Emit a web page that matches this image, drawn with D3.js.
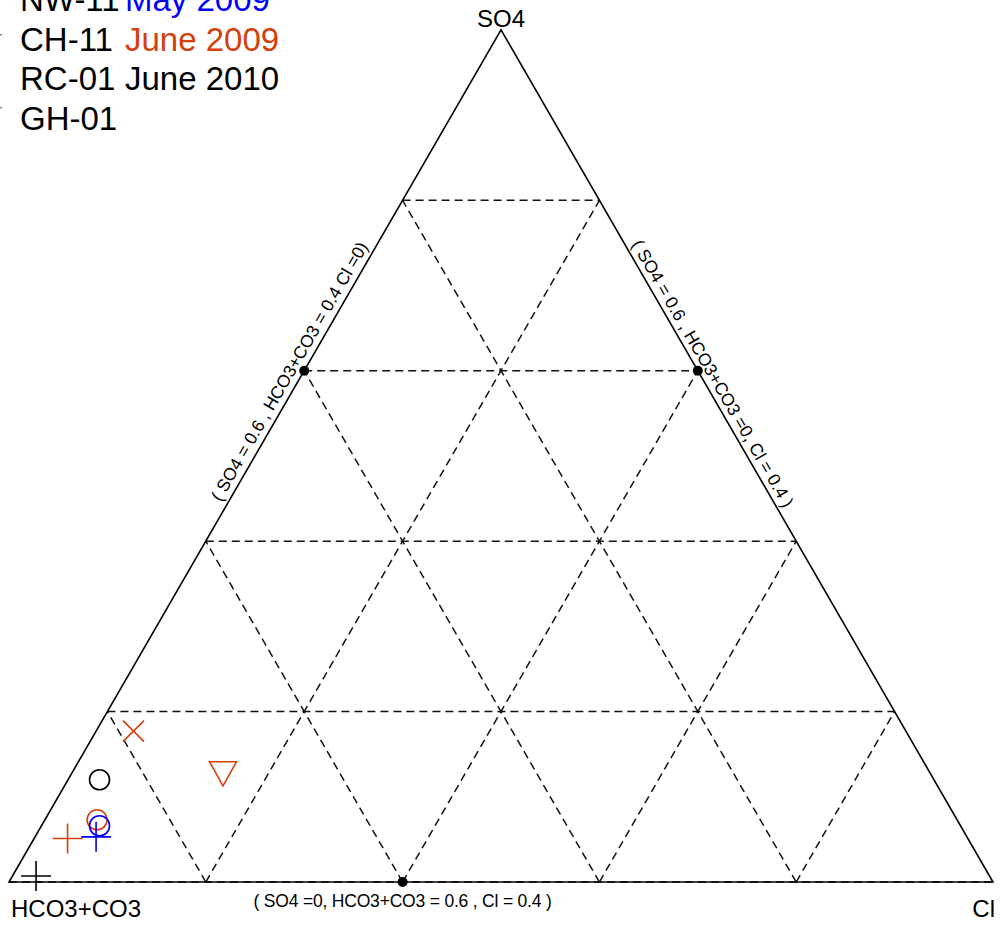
<!DOCTYPE html>
<html>
<head>
<meta charset="utf-8">
<script src="https://cdn.jsdelivr.net/npm/d3@7"></script>
<style>
  body { margin: 0; background: #fff; }
  svg { display: block; font-family: "Liberation Sans", Arial, sans-serif; }
</style>
</head>
<body>
<div id="chart"></div>
<script>
// legend rows: sample name + sampling date
var sampleNames = ["NW-11", "CH-11", "RC-01", "GH-01"];
var sampleDates = ["May 2009", "June 2009", "June 2010", ""];
var dateColors = ["#0000ff", "#d4400c", "#000000", "#000000"];

// anion fractions (SO4, HCO3+CO3, Cl)
var so4  = [0.177, 0.127, 0.120, 0.073, 0.066, 0.053, 0.051, 0.007];
var hco3 = [0.785, 0.719, 0.848, 0.874, 0.875, 0.885, 0.915, 0.969];
var cl   = [0.038, 0.154, 0.032, 0.053, 0.059, 0.062, 0.034, 0.024];
var symbols = ["times", "triangle", "circle", "circle", "circle", "plus", "plus", "plus"];
var pointColors = ["#d4400c", "#d4400c", "#000000", "#d4400c", "#0000ff", "#0000ff", "#d4400c", "#000000"];

var gridLevels = [0, 0.2, 0.4, 0.6, 0.8];

// reference points with their labels
var refPoints = [
    {so4: 0.6, hco3: 0.4, cl: 0,   text: "( SO4 = 0.6 ,  HCO3+CO3 = 0.4 Cl =0)"},
    {so4: 0.6, hco3: 0,   cl: 0.4, text: "( SO4 = 0.6 ,  HCO3+CO3 =0, Cl = 0.4 )"},
    {so4: 0,   hco3: 0.6, cl: 0.4, text: "( SO4 =0, HCO3+CO3 = 0.6 ,  Cl = 0.4 )"}
];

var width = 1001,
    height = 926;

var side = 984,
    x0 = 9,
    y0 = 882,
    triH = side * Math.sqrt(3) / 2;

var xScale = d3.scaleLinear().domain([0, 1]).range([x0, x0 + side]);
var yScale = d3.scaleLinear().domain([0, 1]).range([y0, y0 - triH]);

function px(a, c) { return xScale(c + a / 2); }
function py(a) { return yScale(a); }

var svg = d3.select("#chart").append("svg")
    .attr("width", width)
    .attr("height", height);

// dashed grid: constant SO4, constant Cl, constant HCO3
var gridLines = [];
gridLevels.forEach(function (v) {
    gridLines.push([[v, 0], [v, 1 - v]]);           // SO4 = v  (a, c)
    if (v > 0) {
        gridLines.push([[0, v], [1 - v, v]]);       // Cl = v
        gridLines.push([[0, 1 - v], [1 - v, 0]]);   // HCO3 = v
    }
});

svg.append("g")
    .selectAll("line")
    .data(gridLines)
    .enter()
    .append("line")
    .attr("x1", function (d) { return px(d[0][0], d[0][1]); })
    .attr("y1", function (d) { return py(d[0][0]); })
    .attr("x2", function (d) { return px(d[1][0], d[1][1]); })
    .attr("y2", function (d) { return py(d[1][0]); })
    .attr("stroke", "#111")
    .attr("stroke-width", 1.5)
    .attr("stroke-dasharray", "8,5");

// outer triangle
var corners = [[0, 0], [0, 1], [1, 0]];
svg.append("path")
    .attr("d", "M" + corners.map(function (d) { return px(d[0], d[1]) + "," + py(d[0]); }).join("L") + "Z")
    .attr("fill", "none")
    .attr("stroke", "#000")
    .attr("stroke-width", 1.6);

// vertex labels
svg.append("text").attr("x", px(1, 0)).attr("y", 27)
    .attr("text-anchor", "middle").attr("font-size", 24).text("SO4");
svg.append("text").attr("x", 11).attr("y", 917)
    .attr("font-size", 24).text("HCO3+CO3");
svg.append("text").attr("x", 995).attr("y", 917)
    .attr("text-anchor", "end").attr("font-size", 24).text("Cl");

// reference dots
svg.append("g")
    .selectAll("circle")
    .data(refPoints)
    .enter()
    .append("circle")
    .attr("cx", function (d) { return px(d.so4, d.cl); })
    .attr("cy", function (d) { return py(d.so4); })
    .attr("r", 5)
    .attr("fill", "#000");

// left edge label (rotated -60), right edge (+60), bottom (flat)
var lp = refPoints[0], rp = refPoints[1], bp = refPoints[2];
var lx = px(lp.so4, lp.cl) - 8 * 0.5 - 6.5 * 0.866,
    ly = py(lp.so4) + 8 * 0.866 - 6.5 * 0.5;
svg.append("text")
    .attr("transform", "translate(" + lx + "," + ly + ") rotate(-60)")
    .attr("text-anchor", "middle").attr("font-size", 17.5).text(lp.text);

var rx = px(rp.so4, rp.cl) + 10 * 0.5 + 5.5 * 0.866,
    ry = py(rp.so4) + 10 * 0.866 - 5.5 * 0.5;
svg.append("text")
    .attr("transform", "translate(" + rx + "," + ry + ") rotate(60)")
    .attr("text-anchor", "middle").attr("font-size", 17.5).text(rp.text);

svg.append("text")
    .attr("x", px(bp.so4, bp.cl)).attr("y", 907)
    .attr("text-anchor", "middle").attr("font-size", 17.5).attr("letter-spacing", -0.2)
    .text(bp.text);

// data markers
function markerPath(type) {
    if (type === "plus") return "M-15,0H15M0,-15V15";
    if (type === "times") return "M-10.5,-10.5L10.5,10.5M-10.5,10.5L10.5,-10.5";
    if (type === "triangle") return "M-13.5,-12H13.5L0,12Z";
    return "M-10,0A10,10 0 1,0 10,0A10,10 0 1,0 -10,0Z";
}

svg.append("g")
    .selectAll("path")
    .data(so4)
    .enter()
    .append("path")
    .attr("transform", function (d, i) {
        return "translate(" + px(so4[i], cl[i]) + "," + py(so4[i]) + ")";
    })
    .attr("d", function (d, i) { return markerPath(symbols[i]); })
    .attr("fill", "none")
    .attr("stroke", function (d, i) { return pointColors[i]; })
    .attr("stroke-width", 1.6);

// legend (its symbols sit off the left edge, only their tips show)
var legend = svg.append("g");
sampleNames.forEach(function (name, i) {
    var base = 11 + i * 39.5;
    legend.append("text").attr("x", 20).attr("y", base)
        .attr("font-size", 33).text(name);
    legend.append("text").attr("x", 125).attr("y", base)
        .attr("font-size", 33).attr("fill", dateColors[i]).text(sampleDates[i]);
});
legend.selectAll("rect")
    .data([35, 108])
    .enter()
    .append("rect")
    .attr("x", 0).attr("y", function (d) { return d - 1; })
    .attr("width", 2).attr("height", 1.5)
    .attr("fill", "#888");
</script>
</body>
</html>
